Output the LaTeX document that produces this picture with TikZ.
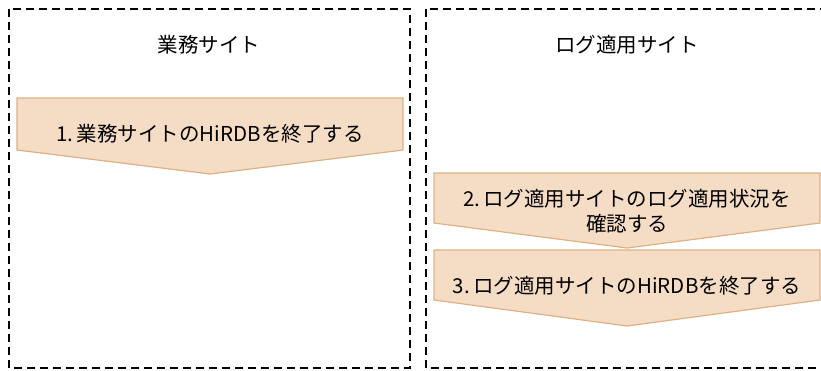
\documentclass[tikz,border=0pt]{standalone}
\usepackage{fontspec}
\setmainfont{Noto Sans CJK JP}
\usepackage{tikz}

\definecolor{stepfill}{RGB}{245,220,196}
\definecolor{stepline}{RGB}{222,176,134}

\tikzset{
  sitebox/.style={black, line width=1.4pt, dash pattern=on 8pt off 5pt},
  stepshape/.style={fill=stepfill, draw=stepline, line width=1.2pt, line join=miter},
  steptext/.style={font=\fontsize{20.5}{25.5}\selectfont, align=center, inner sep=0pt},
  sitetitle/.style={font=\fontsize{20.5}{25.5}\selectfont, inner sep=0pt}
}

\begin{document}
\begin{tikzpicture}[x=1pt, y=-1pt]
        % picture frame (same size as the reference)
        \useasboundingbox (0,0) rectangle (821,370);
        \clip (0,0) rectangle (821,370);

        % Two sites: dashed frames
        \draw[sitebox] (9,9) rectangle (410,368);
        \draw[sitebox] (426,9) rectangle (840,368);

        % Site titles
        \node[sitetitle] (gyomu) at (209,45) {業務サイト};
        \node[sitetitle] (logsite) at (627,45) {ログ適用サイト};

        % Step 1: business site
        \draw[stepshape] (17,98) -- (403,98) -- (403,150) -- (210,174) -- (17,150) -- cycle;
        \node[steptext] (step1) at (210,134) {1.\,業務サイトのHiRDBを終了する};

        % Step 2: log application site, check status
        \draw[stepshape] (434,173) -- (820,173) -- (820,223) -- (627,248) -- (434,223) -- cycle;
        \node[steptext] (step2) at (627,211) {2.\,ログ適用サイトのログ適用状況を\\確認する};

        % Step 3: log application site, stop HiRDB
        \draw[stepshape] (434,250) -- (820,250) -- (820,300) -- (627,326) -- (434,300) -- cycle;
        \node[steptext] (step3) at (627,286) {3.\,ログ適用サイトのHiRDBを終了する};

    \end{tikzpicture}
\end{document}
